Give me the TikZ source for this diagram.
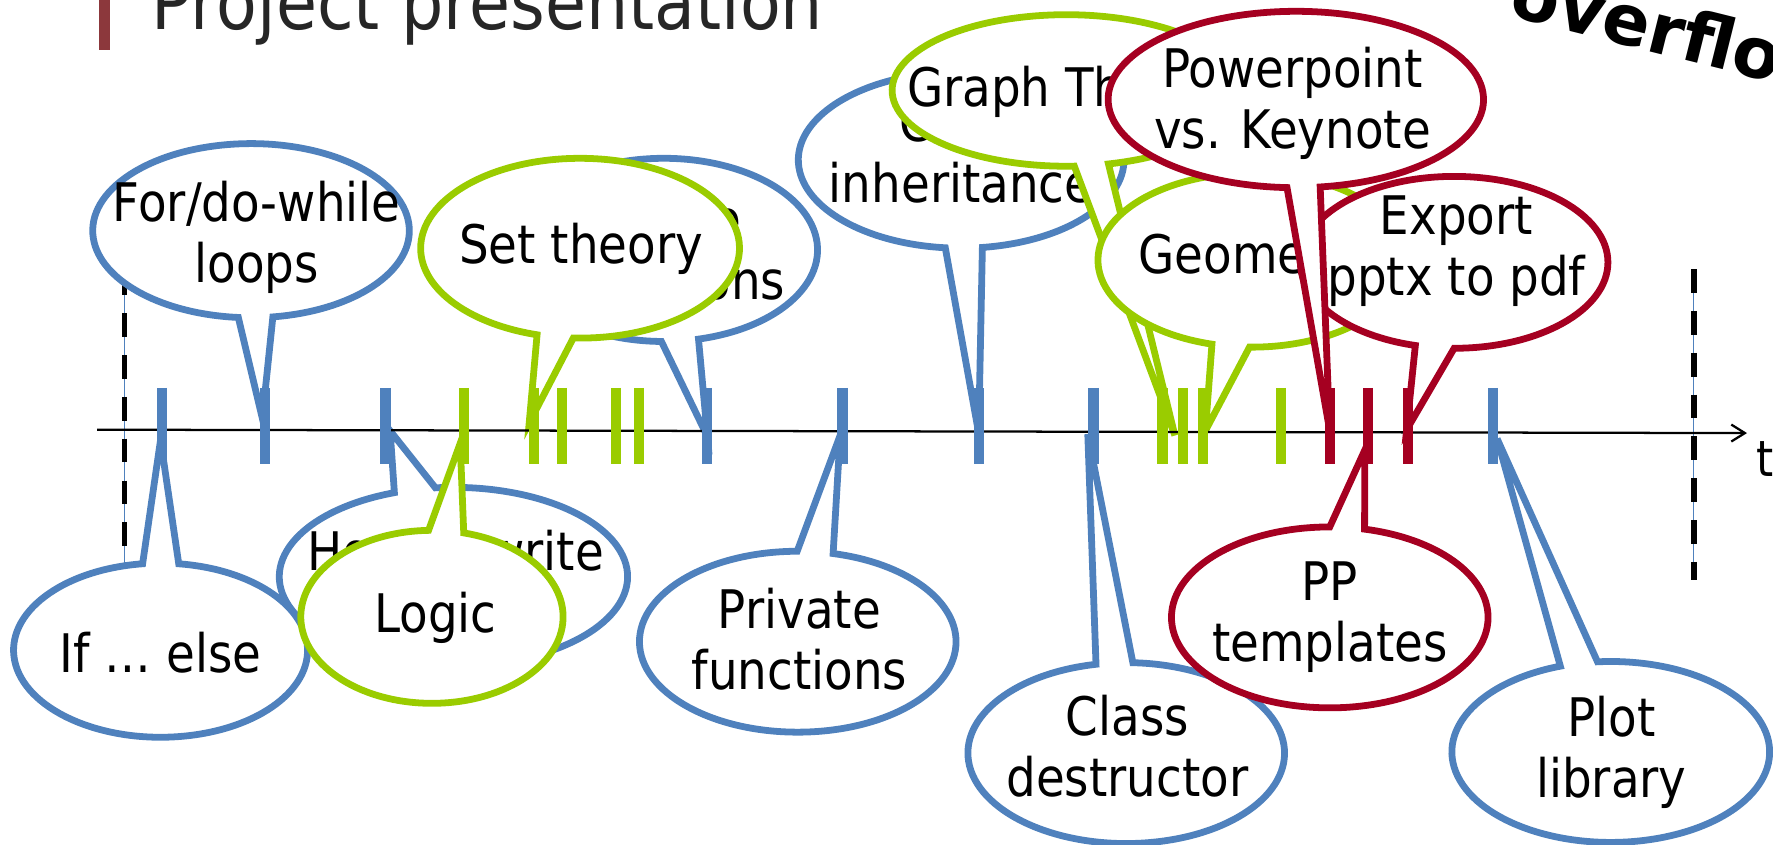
\documentclass[tikz,border=0pt]{standalone}
\usepackage{fontspec}
\setmainfont{DejaVu Sans}[FakeStretch=0.88]
\newfontfamily\brandfont{DejaVu Sans}
\usetikzlibrary{arrows.meta}

\definecolor{cblue}{RGB}{79,129,189}
\definecolor{cgreen}{RGB}{154,204,0}
\definecolor{cred}{RGB}{165,0,33}
\definecolor{titlebar}{RGB}{140,56,60}
\definecolor{titlegray}{RGB}{38,38,38}

% ellipse: centre x / centre y / x radius / y radius
\def\bbSetEll#1/#2/#3/#4\relax{\def\bbCx{#1}\def\bbCy{#2}\def\bbRx{#3}\def\bbRy{#4}}
% the two points where the pointer leaves the ellipse
\def\bbSetBase#1/#2/#3/#4\relax{\def\bbPx{#1}\def\bbPy{#2}\def\bbQx{#3}\def\bbQy{#4}}

% oval callout: #1 colour, #2 ellipse, #3 pointer base, #4 pointer tip
\newcommand\bubble[4]{%
  \bbSetEll#2\relax
  \bbSetBase#3\relax
  \pgfmathsetmacro\bbAp{atan2(-(\bbPy-\bbCy)/\bbRy,(\bbPx-\bbCx)/\bbRx)}%
  \pgfmathsetmacro\bbAq{atan2(-(\bbQy-\bbCy)/\bbRy,(\bbQx-\bbCx)/\bbRx)}%
  \pgfmathsetmacro\bbDd{mod(\bbAq-\bbAp+720,360)}%
  \pgfmathsetmacro\bbSt{\bbDd<180 ? \bbAq : \bbAp}%
  \pgfmathsetmacro\bbGap{\bbDd<180 ? \bbDd : 360-\bbDd}%
  \pgfmathsetmacro\bbEn{\bbSt+360-\bbGap}%
  \draw[bubble line,draw=#1] (\bbCx,\bbCy) ++(\bbSt:\bbRx pt and \bbRy pt)
    arc[start angle=\bbSt,end angle=\bbEn,x radius=\bbRx pt,y radius=\bbRy pt]
    -- (#4) -- cycle;
}

\tikzset{
  bubble line/.style={line width=6pt,fill=white,line join=miter},
  lbl/.style={align=center,inner sep=0pt,font=\fontsize{47}{54}\selectfont},
  tickmark/.style={line width=9pt},
  axisline/.style={line width=2pt,-{Straight Barb[length=12pt,width=15pt]}},
  bound/.style={line width=5pt,dash pattern=on 21pt off 16pt},
  boundguide/.style={line width=0.8pt,cblue},
}

\begin{document}
\begin{tikzpicture}[x=1pt,y=-1pt]
\useasboundingbox (0,0) rectangle (1568,747);
\clip (0,0) rectangle (1568,747);

% slide title
\fill[titlebar] (87.5,0) rectangle (97.5,44);
\node[anchor=base west,inner sep=0pt,text=titlegray,font=\fontsize{67}{70}\selectfont] (title) at (134,26.5) {Project presentation};
\node[anchor=base west,inner sep=0pt,rotate=-14,font=\brandfont\bfseries\fontsize{62}{64}\selectfont] (brand) at (1333,14) {overflow};

% start and end of the time span
\coordinate (startTop) at (110,240);
\coordinate (startBot) at (110,505);
\coordinate (endTop) at (1498,238);
\coordinate (endBot) at (1498,513);
\draw[boundguide] (startTop) -- (startBot);
\draw[bound] (startTop) -- (startBot);
\draw[boundguide] (endTop) -- (endBot);
\draw[bound] (endTop) -- (endBot);

% callouts, back to front
\coordinate (tipInh) at (865.5,383);
\bubble{cblue}{850/141.5/144/78}{836/219/868.6/218}{tipInh}
\node[lbl] (inherit) at (850,134.5) {Class\\inheritance};

\coordinate (tipGraph) at (1039,385);
\bubble{cgreen}{943/80/154/67}{950/146/980/144.5}{tipGraph}
\node[lbl] (graph) at (944,81.5) {Graph Theory};

\coordinate (tipGeo) at (1066,381);
\bubble{cgreen}{1107/230/136/77}{1072/304/1105/307}{tipGeo}
\node[lbl] (geometry) at (1110,229) {Geometry};

\coordinate (tipExp) at (1244,380);
\bubble{cred}{1286/232/136/76}{1251/307/1286/308}{tipExp}
\node[lbl] (export) at (1288,222) {Export\\pptx to pdf};

\coordinate (tipPPT) at (1176,381);
\bubble{cred}{1146/88/166/78}{1138/168/1168/167}{tipPPT}
\node[lbl] (ppt) at (1143,91) {Powerpoint\\vs. Keynote};

\coordinate (tipInl) at (625.6,386);
\bubble{cblue}{587/221/136/81}{585/299/617/298}{tipInl}
\node[lbl] (inline) at (599,220) {Inline\\functions};

\coordinate (tipSet) at (468,374);
\bubble{cgreen}{513/219.5/141/79.5}{475/296/507/299}{tipSet}
\node[lbl] (settheory) at (514,220.5) {Set theory};

\coordinate (tipFor) at (232,370);
\bubble{cblue}{222/204/140/77}{211/279/241/279}{tipFor}
\node[lbl] (fordo) at (227,210) {For/do-while\\loops};

\coordinate (tipIf) at (142,389);
\bubble{cblue}{142/575/130/77}{126/498/158/499}{tipIf}
\node[lbl] (ifelse) at (142,577) {If … else};

\coordinate (tipHow) at (345,381);
\bubble{cblue}{401/510/154/79}{349/436/385/431}{tipHow}
\node[lbl] (howto) at (403,487) {How to write};

\coordinate (tipLog) at (407,392);
\bubble{cgreen}{382/545.5/116/76.5}{379/469/410/471.6}{tipLog}
\node[lbl] (logic) at (385,546) {Logic};

\coordinate (tipPriv) at (743,385);
\bubble{cblue}{705.5/567.5/140/80}{705/488/737/489}{tipPriv}
\node[lbl] (private) at (707,565) {Private\\functions};

\coordinate (tipDes) at (962,384);
\bubble{cblue}{996/666/140/80}{970/589.6/1001.6/590}{tipDes}
\node[lbl] (destructor) at (997,660) {Class\\destructor};

\coordinate (tipPP) at (1207,398);
\bubble{cred}{1176/546/140/80}{1176/468.6/1206/470}{tipPP}
\node[lbl] (pptemp) at (1176,546) {PP\\templates};

\coordinate (tipPlot) at (1324,388);
\bubble{cblue}{1424.5/665/140.5/80}{1381/591/1413/586.7}{tipPlot}
\node[lbl] (plotlib) at (1425,665) {Plot\\library};

% time axis
\coordinate (axStart) at (86,380);
\coordinate (axEnd) at (1545,383);
\draw[axisline] (axStart) -- (axEnd);
\node[anchor=base west,inner sep=0pt,font=\fontsize{44}{50}\selectfont] (tlabel) at (1553,421.5) {t};

% event marks
\foreach \x in {143,234,341,625,745,866,967,1320}
  \draw[tickmark,cblue] (\x,343) -- (\x,410);
\foreach \x in {410,472,497,545,565,1028,1046,1064,1133}
  \draw[tickmark,cgreen] (\x,343) -- (\x,410);
\foreach \x in {1176,1210,1245}
  \draw[tickmark,cred] (\x,343) -- (\x,410);
\end{tikzpicture}
\end{document}
